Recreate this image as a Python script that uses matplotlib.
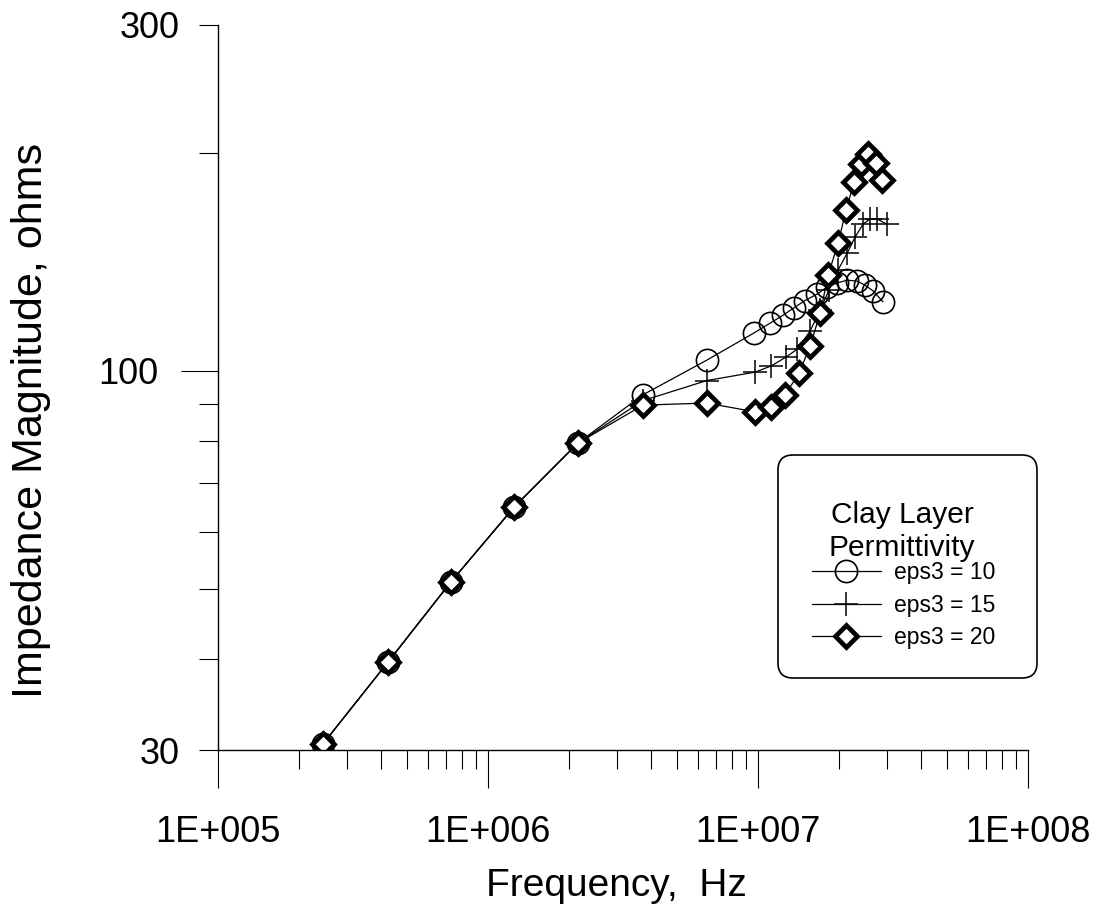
import numpy as np
import matplotlib
matplotlib.use("Agg")
import matplotlib.pyplot as plt
from matplotlib.patches import FancyBboxPatch
from matplotlib.ticker import FixedLocator, FixedFormatter, FuncFormatter, NullFormatter

plt.rcParams["font.family"] = ["Liberation Sans", "DejaVu Sans"]

# shared low-frequency points (all three curves coincide here)
freq_low = [2.45e5, 4.27e5, 7.30e5, 1.25e6, 2.15e6]
z_low = [30.6, 39.7, 51.2, 64.9, 79.5]

# eps3 = 10
freq_eps10 = freq_low + [3.75e6, 6.47e6, 9.66e6, 1.11e7, 1.24e7, 1.36e7, 1.49e7,
                         1.66e7, 1.80e7, 1.96e7, 2.14e7, 2.33e7, 2.49e7, 2.67e7, 2.90e7]
z_eps10 = z_low + [92.7, 103.5, 112.8, 116.4, 119.4, 122.2, 125.0,
                   127.7, 130.5, 132.2, 133.4, 133.0, 131.3, 128.9, 124.6]

# eps3 = 15
freq_eps15 = freq_low + [3.75e6, 6.47e6, 9.75e6, 1.12e7, 1.27e7, 1.40e7, 1.56e7, 1.70e7,
                         1.83e7, 1.98e7, 2.14e7, 2.29e7, 2.45e7, 2.60e7, 2.76e7, 3.00e7]
z_eps15 = z_low + [91.0, 97.0, 99.6, 101.6, 104.5, 107.2, 113.5, 121.4,
                   129.3, 137.8, 145.4, 153.0, 159.4, 162.0, 162.0, 159.4]

# eps3 = 20
freq_eps20 = freq_low + [3.75e6, 6.47e6, 9.75e6, 1.12e7, 1.26e7, 1.42e7, 1.56e7, 1.70e7,
                         1.82e7, 1.98e7, 2.12e7, 2.27e7, 2.41e7, 2.56e7, 2.74e7, 2.88e7]
z_eps20 = z_low + [89.7, 90.3, 87.8, 89.2, 92.7, 99.3, 108.2, 120.2,
                   135.6, 150.1, 166.7, 182.2, 192.9, 199.1, 193.5, 183.4]

W, H = 1096, 909
fig = plt.figure(figsize=(W / 100, H / 100), dpi=100)
ax = fig.add_axes([218 / W, 1 - 750 / H, 810 / W, 725 / H])

ax.plot(freq_eps10, z_eps10, color="black", lw=0.9, marker="o", ms=16,
        mfc="none", mec="black", mew=1.2, label="eps3 = 10")
ax.plot(freq_eps15, z_eps15, color="black", lw=0.9, marker="+", ms=17,
        mec="black", mew=1.1, label="eps3 = 15")
ax.plot(freq_eps20, z_eps20, color="black", lw=0.9, marker="D", ms=11.5,
        mfc="white", mec="black", mew=3.4, label="eps3 = 20")

ax.set_xscale("log")
ax.set_yscale("log")
ax.set_xlim(1e5, 1e8)
ax.set_ylim(30, 300)

for side in ["top", "right"]:
    ax.spines[side].set_visible(False)
for side in ["left", "bottom"]:
    ax.spines[side].set_linewidth(1.0)

# x axis: decades labelled 1E+005 style
ax.xaxis.set_major_locator(FixedLocator([1e5, 1e6, 1e7, 1e8]))
ax.xaxis.set_major_formatter(FuncFormatter(lambda v, p: "1E+%03d" % int(round(np.log10(v)))))
ax.xaxis.set_minor_locator(FixedLocator([m * 10.0 ** d for d in range(5, 8) for m in range(2, 10)]))
ax.xaxis.set_minor_formatter(NullFormatter())
ax.tick_params(axis="x", which="major", direction="out", length=27, width=0.8,
               labelsize=26, pad=20)
ax.tick_params(axis="x", which="minor", direction="out", length=13.5, width=0.8)

# y axis: long tick at 100, short ticks elsewhere with 30 and 300 labelled
ax.yaxis.set_major_locator(FixedLocator([100]))
ax.yaxis.set_major_formatter(FixedFormatter(["100"]))
y_minor = [30, 40, 50, 60, 70, 80, 90, 200, 300]
ax.yaxis.set_minor_locator(FixedLocator(y_minor))
ax.yaxis.set_minor_formatter(FixedFormatter(["30", "", "", "", "", "", "", "", "300"]))
ax.tick_params(axis="y", which="major", direction="out", length=27, width=0.8,
               labelsize=26, pad=16)
ax.tick_params(axis="y", which="minor", direction="out", length=13.5, width=0.8,
               labelsize=26, pad=14)

fig.text(616 / W, 1 - 886 / H, "Frequency,  Hz", fontsize=28,
         ha="center", va="center")
fig.text(31 / W, 1 - 421 / H, "Impedance Magnitude, ohms", fontsize=31,
         ha="center", va="center", rotation=90)

# legend: rounded frame and two-line title drawn separately, entries from ax.legend
box = FancyBboxPatch((7.78, (H - 678) / 100), 2.59, 2.23,
                     boxstyle="round,pad=0,rounding_size=0.15",
                     transform=fig.dpi_scale_trans, facecolor="white",
                     edgecolor="black", linewidth=1.2, zorder=5, clip_on=False)
ax.add_patch(box)
ax.text(902 / W, 1 - 523 / H, "Clay Layer", fontsize=21.5, ha="center",
        va="baseline", transform=fig.transFigure, zorder=6)
ax.text(902 / W, 1 - 556 / H, "Permittivity", fontsize=21.5, ha="center",
        va="baseline", transform=fig.transFigure, zorder=6)

leg = ax.legend(loc="upper left", bbox_to_anchor=(812 / W, 1 - 561 / H),
                bbox_transform=fig.transFigure, borderaxespad=0, borderpad=0,
                fontsize=16.5, handlelength=3.0, handletextpad=0.6,
                labelspacing=0.42, frameon=False)
leg.set_zorder(7)

fig.savefig("out.png", dpi=100)
